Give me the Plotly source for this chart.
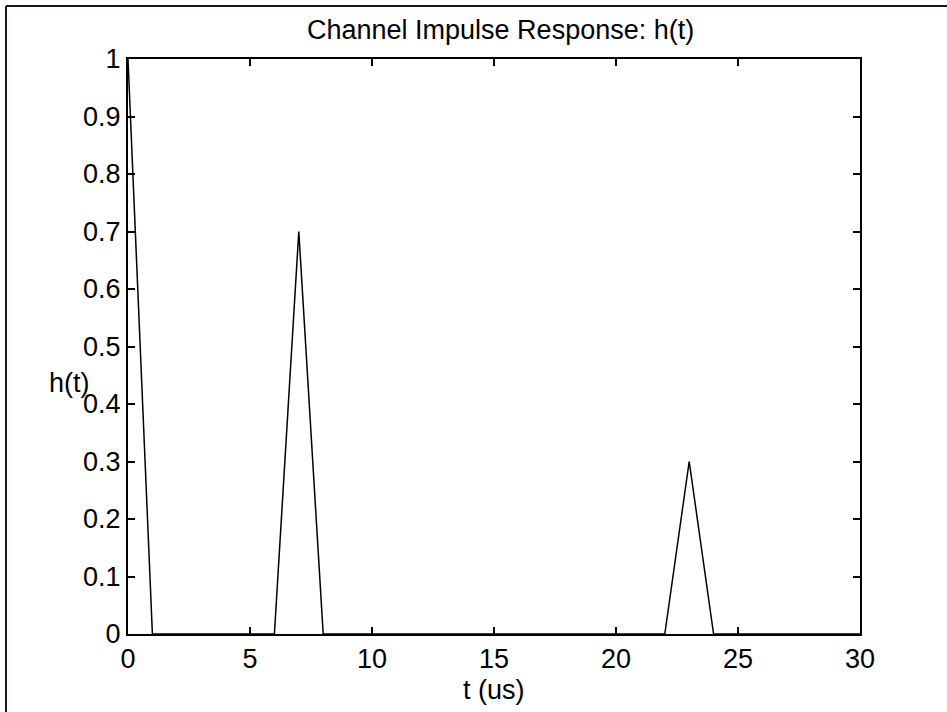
import plotly.graph_objects as go

t_us = list(range(0, 31))
h_vals = [1.0, 0, 0, 0, 0, 0, 0, 0.7, 0, 0, 0, 0, 0, 0, 0, 0,
          0, 0, 0, 0, 0, 0, 0, 0.3, 0, 0, 0, 0, 0, 0, 0]
x_ticks = [0, 5, 10, 15, 20, 25, 30]
y_ticks = [0, 0.1, 0.2, 0.3, 0.4, 0.5, 0.6, 0.7, 0.8, 0.9, 1]
y_tick_text = ["0", "0.1", "0.2", "0.3", "0.4", "0.5", "0.6", "0.7", "0.8", "0.9", "1"]

W, H = 947, 712
L, R, T, B = 128, 87, 59, 78
pw, ph = W - L - R, H - T - B

def px(x):
    return (x - L) / pw

def py(y):
    return (H - B - y) / ph

FONT = "Liberation Sans, Arial, sans-serif"
FS = 27

fig = go.Figure()
fig.add_trace(go.Scatter(x=t_us, y=h_vals, mode="lines",
                         line=dict(color="black", width=1.5),
                         showlegend=False, hoverinfo="skip"))

axis_common = dict(showgrid=False, zeroline=False, showline=True,
                   linecolor="black", linewidth=2, mirror="ticks",
                   ticks="inside", ticklen=7, tickwidth=1.5, tickcolor="black",
                   tickfont=dict(family=FONT, size=FS, color="black"))

fig.update_xaxes(range=[0, 30], tickvals=x_ticks, ticktext=[str(v) for v in x_ticks],
                 **axis_common)
fig.update_yaxes(range=[0, 1], tickvals=y_ticks, ticktext=y_tick_text, **axis_common)

fig.update_layout(
    width=W, height=H,
    margin=dict(l=L, r=R, t=T, b=B, pad=0),
    paper_bgcolor="white", plot_bgcolor="white",
    font=dict(family=FONT, size=FS, color="black"),
    annotations=[
        dict(text="Channel Impulse Response: h(t)", xref="paper", yref="paper",
             x=px(500), y=py(30), showarrow=False, xanchor="center", yanchor="middle",
             font=dict(family=FONT, size=FS, color="black")),
        dict(text="t (us)", xref="paper", yref="paper",
             x=px(494), y=py(690), showarrow=False, xanchor="center", yanchor="middle",
             font=dict(family=FONT, size=FS, color="black")),
        dict(text="h(t)", xref="paper", yref="paper",
             x=px(69), y=py(383), showarrow=False, xanchor="center", yanchor="middle",
             font=dict(family=FONT, size=FS, color="black")),
    ],
    shapes=[
        dict(type="line", xref="paper", yref="paper", x0=px(6), x1=px(947),
             y0=py(6), y1=py(6), line=dict(color="#201414", width=2)),
        dict(type="line", xref="paper", yref="paper", x0=px(6), x1=px(6),
             y0=py(6), y1=py(712), line=dict(color="#201414", width=2)),
    ],
)

fig.write_html("out.html")
